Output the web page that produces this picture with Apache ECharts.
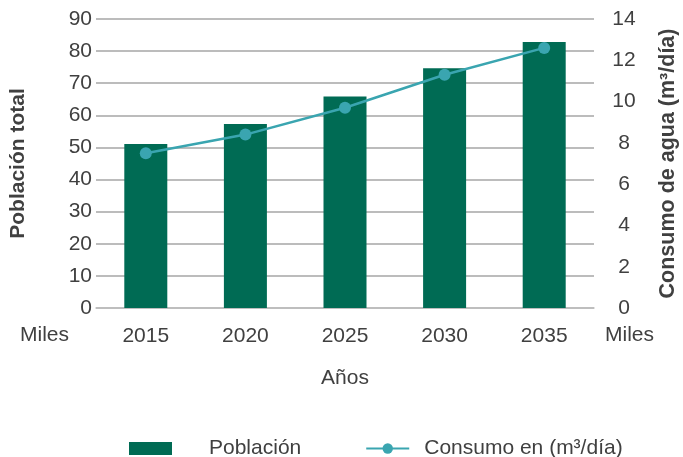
<!DOCTYPE html>
<html>
<head>
    <meta charset="utf-8">
    <title>Población y consumo</title>
    <script src="https://cdn.jsdelivr.net/npm/echarts@6/dist/echarts.min.js"></script>
    <style>
        html, body { margin: 0; padding: 0; background: #fff; }
        #main { width: 683px; height: 457px; }
    </style>
</head>
<body>
    <div id="main"></div>
    <script type="text/javascript">

        const YEARS = ['2015', '2020', '2025', '2030', '2035'];
        const POBLACION = [51.1, 57.3, 65.9, 74.7, 82.8];
        const CONSUMO = [7.5, 8.4, 9.7, 11.3, 12.6];

        const FONT = '"Liberation Sans", Arial, sans-serif';
        const TEXT_COLOR = '#404040';

        let myChart = echarts.init(document.getElementById('main'));

        const option = {
            animation: false,
            grid: {
                left: 96,
                right: 89,
                top: 19,
                bottom: 149,
                outerBoundsMode: 'none'
            },
            legend: {
                left: 124,
                top: 433,
                itemWidth: 43,
                itemHeight: 13,
                itemGap: 64,
                textStyle: {
                    fontFamily: FONT,
                    fontSize: 21,
                    color: TEXT_COLOR
                },
                data: [
                    { name: 'Población', icon: 'rect', textStyle: { padding: [0, 0, 0, 32] } },
                    { name: 'Consumo en (m³/día)', textStyle: { padding: [0, 0, 0, 10] } }
                ]
            },
            xAxis: {
                type: 'category',
                data: YEARS,
                name: 'Años',
                nameLocation: 'middle',
                nameGap: 60,
                nameTextStyle: { fontFamily: FONT, fontSize: 21, color: TEXT_COLOR },
                axisLine: { lineStyle: { color: '#bfbfbf', width: 1.5 } },
                axisTick: { show: false },
                axisLabel: { fontFamily: FONT, fontSize: 21, color: TEXT_COLOR, margin: 18 }
            },
            yAxis: [
                {
                    type: 'value',
                    min: 0,
                    max: 90,
                    interval: 10,
                    name: 'Población total',
                    nameLocation: 'middle',
                    nameRotate: 90,
                    nameGap: 67,
                    nameTextStyle: { fontFamily: FONT, fontWeight: 'bold', fontSize: 21, color: TEXT_COLOR },
                    axisLine: { show: false },
                    axisTick: { show: false },
                    axisLabel: { fontFamily: FONT, fontSize: 21, color: TEXT_COLOR, margin: 4 },
                    splitLine: { lineStyle: { color: '#a6a6a6', width: 1.5 } }
                },
                {
                    type: 'value',
                    min: 0,
                    max: 14,
                    interval: 2,
                    name: 'Consumo de agua (m³/día)',
                    nameLocation: 'middle',
                    nameRotate: 90,
                    nameGap: 63,
                    nameTextStyle: { fontFamily: FONT, fontWeight: 'bold', fontSize: 21.5, color: TEXT_COLOR },
                    axisLine: { show: false },
                    axisTick: { show: false },
                    axisLabel: { fontFamily: FONT, fontSize: 21, color: TEXT_COLOR, margin: 30, align: 'center' },
                    splitLine: { show: false }
                }
            ],
            graphic: [
                {
                    type: 'text',
                    left: 20,
                    top: 325,
                    style: { text: 'Miles', font: '21px ' + FONT, fill: TEXT_COLOR }
                },
                {
                    type: 'text',
                    left: 605,
                    top: 325,
                    style: { text: 'Miles', font: '21px ' + FONT, fill: TEXT_COLOR }
                }
            ],
            series: [
                {
                    name: 'Población',
                    type: 'bar',
                    data: POBLACION,
                    barWidth: 43,
                    itemStyle: { color: '#006b54' }
                },
                {
                    name: 'Consumo en (m³/día)',
                    type: 'line',
                    yAxisIndex: 1,
                    data: CONSUMO,
                    symbol: 'circle',
                    symbolSize: 12,
                    lineStyle: { color: '#3aa5b0', width: 2.5 },
                    itemStyle: { color: '#3aa5b0' }
                }
            ]
        };

        myChart.setOption(option);

    </script>
</body>
</html>
